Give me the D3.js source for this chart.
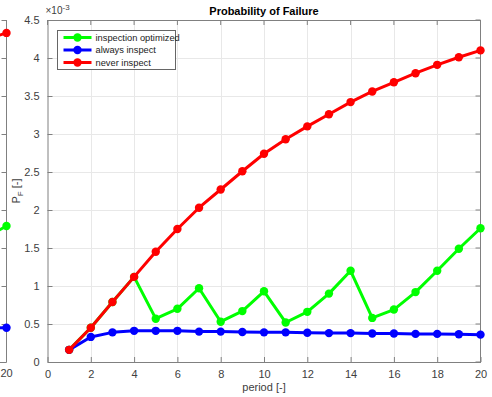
<!DOCTYPE html>
<html>
<head>
<meta charset="utf-8">
<script src="https://cdn.jsdelivr.net/npm/d3@7"></script>
<style>
  body { margin: 0; background: #fff; }
  svg { display: block; font-family: "Liberation Sans", Arial, sans-serif; }
</style>
</head>
<body>
<svg id="chart" width="492" height="397"></svg>
<script>
// period axis
const periods = d3.range(1, 21);
const xTicks = [0, 2, 4, 6, 8, 10, 12, 14, 16, 18, 20];
const yTicks = [0, 0.5, 1, 1.5, 2, 2.5, 3, 3.5, 4, 4.5];

// probability of failure, in units of 1e-3
const optimized = [0.16, 0.45, 0.79, 1.12, 0.57, 0.70, 0.97, 0.53, 0.67, 0.93,
                   0.52, 0.66, 0.90, 1.20, 0.58, 0.69, 0.92, 1.20, 1.49, 1.76];
const always = [0.16, 0.33, 0.39, 0.41, 0.41, 0.41, 0.40, 0.40, 0.395, 0.39,
                0.39, 0.385, 0.38, 0.38, 0.375, 0.375, 0.37, 0.37, 0.365, 0.36];
const never = [0.16, 0.45, 0.79, 1.12, 1.45, 1.75, 2.03, 2.27, 2.51, 2.74,
               2.93, 3.10, 3.26, 3.42, 3.56, 3.68, 3.80, 3.91, 4.01, 4.10];

// neighbouring chart, only its last two periods are in view
const leftPeriods = [19, 20];
const leftOptimized = [1.63, 1.79];
const leftAlways = [0.45, 0.45];
const leftNever = [4.24, 4.33];

const series = [
  {name: "inspection optimized", color: "#00ff00", values: optimized, left: leftOptimized},
  {name: "always inspect", color: "#0000ff", values: always, left: leftAlways},
  {name: "never inspect", color: "#ff0000", values: never, left: leftNever}
];

const svg = d3.select("#chart");
const m = {left: 47.5, right: 480.5, top: 20, bottom: 362};
const textCol = "#404040";
const axisCol = "#808080";

const x = d3.scaleLinear().domain([0, 20]).range([m.left, m.right]);
const y = d3.scaleLinear().domain([0, 4.5]).range([m.bottom, m.top]);

// left chart (cut off by the window edge)
const xl = d3.scaleLinear().domain([0, 20]).range([6.5 - 21.65 * 20, 6.5]);
const lg = svg.append("g");
lg.append("line").attr("x1", xl(20)).attr("x2", xl(20))
  .attr("y1", m.top).attr("y2", m.bottom).attr("stroke", axisCol);
lg.append("line").attr("x1", -5).attr("x2", xl(20))
  .attr("y1", m.bottom + 0.5).attr("y2", m.bottom + 0.5).attr("stroke", axisCol);
yTicks.forEach(t => {
  lg.append("line").attr("x1", xl(20) - 5).attr("x2", xl(20))
    .attr("y1", Math.round(y(t)) + 0.5).attr("y2", Math.round(y(t)) + 0.5)
    .attr("stroke", axisCol);
});
lg.append("text").attr("x", xl(20)).attr("y", 377)
  .attr("text-anchor", "middle").attr("font-size", 11).attr("fill", textCol).text("20");
series.forEach(s => {
  const pts = leftPeriods.map((p, i) => [xl(p), y(s.left[i])]);
  lg.append("path").attr("d", d3.line()(pts)).attr("fill", "none")
    .attr("stroke", s.color).attr("stroke-width", 3);
  lg.append("circle").attr("cx", pts[1][0]).attr("cy", pts[1][1]).attr("r", 4.2)
    .attr("fill", s.color);
});

// grid
const grid = svg.append("g");
xTicks.slice(1, -1).forEach(t => {
  grid.append("line").attr("x1", Math.round(x(t)) + 0.5).attr("x2", Math.round(x(t)) + 0.5)
    .attr("y1", m.top).attr("y2", m.bottom).attr("stroke", "#e8e8e8");
});
yTicks.slice(1, -1).forEach(t => {
  grid.append("line").attr("x1", m.left).attr("x2", m.right)
    .attr("y1", Math.round(y(t)) + 0.5).attr("y2", Math.round(y(t)) + 0.5)
    .attr("stroke", "#e8e8e8");
});

// axes
const xAxis = svg.append("g").attr("transform", `translate(0,${m.bottom})`)
  .call(d3.axisBottom(x).tickValues(xTicks).tickSize(-5).tickPadding(8).tickSizeOuter(0));
const yAxis = svg.append("g").attr("transform", `translate(${m.left},0)`)
  .call(d3.axisLeft(y).tickValues(yTicks).tickSize(-5).tickPadding(8).tickSizeOuter(0)
    .tickFormat(d => d3.format("")(d)));
[xAxis, yAxis].forEach(a => {
  a.selectAll("path").attr("stroke", axisCol);
  a.selectAll("line").attr("stroke", axisCol);
  a.selectAll("text").attr("fill", textCol).attr("font-size", 11)
    .attr("font-family", "Liberation Sans, Arial, sans-serif");
});
// top and right box edges with ticks
svg.append("line").attr("x1", m.left).attr("x2", m.right).attr("y1", m.top + 0.5).attr("y2", m.top + 0.5)
  .attr("stroke", axisCol);
svg.append("line").attr("x1", m.right).attr("x2", m.right).attr("y1", m.top).attr("y2", m.bottom)
  .attr("stroke", axisCol);
xTicks.forEach(t => {
  svg.append("line").attr("x1", x(t)).attr("x2", x(t)).attr("y1", m.top).attr("y2", m.top + 5)
    .attr("stroke", axisCol);
});
yTicks.forEach(t => {
  svg.append("line").attr("x1", m.right - 5).attr("x2", m.right)
    .attr("y1", y(t)).attr("y2", y(t)).attr("stroke", axisCol);
});

// series
const line = d3.line().x((d, i) => x(periods[i])).y(d => y(d));
series.forEach(s => {
  const g = svg.append("g");
  g.append("path").datum(s.values).attr("d", line).attr("fill", "none")
    .attr("stroke", s.color).attr("stroke-width", 3).attr("stroke-linejoin", "round");
  g.selectAll("circle").data(s.values).join("circle")
    .attr("cx", (d, i) => x(periods[i])).attr("cy", d => y(d)).attr("r", 4.2)
    .attr("fill", s.color);
});

// exponent
const ex = svg.append("text").attr("x", m.left - 2).attr("y", 14)
  .attr("font-size", 10).attr("fill", textCol);
ex.append("tspan").text("\u00d710");
ex.append("tspan").attr("dy", -4).attr("font-size", 8).text("-3");

// title and labels
svg.append("text").attr("x", (m.left + m.right) / 2).attr("y", 15)
  .attr("text-anchor", "middle").attr("font-size", 11).attr("font-weight", "bold")
  .attr("fill", "#000").text("Probability of Failure");
svg.append("text").attr("x", (m.left + m.right) / 2).attr("y", 391)
  .attr("text-anchor", "middle").attr("font-size", 11).attr("fill", textCol).text("period [-]");
const yl = svg.append("text").attr("transform", `translate(20,${(m.top + m.bottom) / 2}) rotate(-90)`)
  .attr("text-anchor", "middle").attr("font-size", 11).attr("fill", textCol);
yl.append("tspan").text("P");
yl.append("tspan").attr("dy", 3).attr("font-size", 8).text("F");
yl.append("tspan").attr("dy", -3).text(" [-]");

// legend
const leg = svg.append("g").attr("transform", "translate(57.5,30.5)");
leg.append("rect").attr("width", 118).attr("height", 39).attr("fill", "#fff").attr("stroke", "#666");
series.forEach((s, i) => {
  const yy = 7 + i * 12.5;
  leg.append("line").attr("x1", 6).attr("x2", 34).attr("y1", yy).attr("y2", yy)
    .attr("stroke", s.color).attr("stroke-width", 3);
  leg.append("circle").attr("cx", 20).attr("cy", yy).attr("r", 4.2).attr("fill", s.color);
  leg.append("text").attr("x", 38).attr("y", yy + 3.3).attr("font-size", 9.3)
    .attr("fill", "#222").text(s.name);
});
</script>
</body>
</html>
